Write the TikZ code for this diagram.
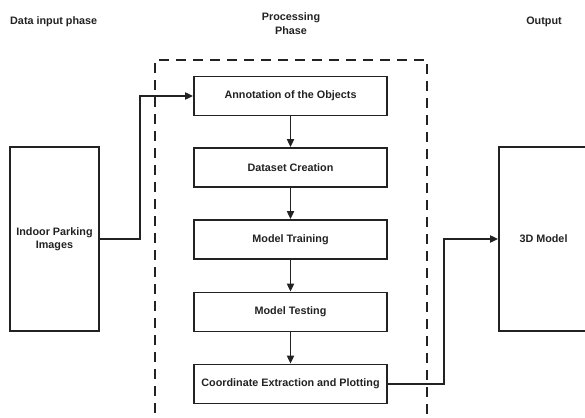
\documentclass[tikz,border=0pt]{standalone}
\usepackage{fontspec}
\setmainfont{Liberation Sans}
\usetikzlibrary{arrows.meta}
\definecolor{ink}{HTML}{222222}
\begin{document}
\begin{tikzpicture}[x=1pt,y=-1pt,
  font=\bfseries\fontsize{10.8}{13.5}\selectfont, text=ink,
  stage/.style={draw=ink, line width=1.7pt, minimum width=193pt, minimum height=39pt, inner sep=0pt},
  tall/.style={draw=ink, line width=1.7pt, minimum width=89pt, minimum height=184pt, inner sep=0pt, align=center},
  link/.style={draw=ink, line width=1.7pt, -{Triangle[length=8pt,width=7pt]}},
  frame/.style={draw=ink, line width=1.7pt, dash pattern=on 10pt off 7pt},
  heading/.style={align=center, inner sep=0pt}]
\useasboundingbox (0,0) rectangle (585,417);
\clip (0,0) rectangle (585,417);

% phase headings
\node[heading, anchor=west] (hin) at (10,22) {Data input phase};
\node[heading] (hproc) at (291,23.5) {Processing\\Phase};
\node[heading] (hout) at (544,22) {Output};

% processing phase frame
\draw[frame] (155,430) -- (155,60) -- (427,60) -- (427,430);

% inputs and outputs
\node[tall] (imgs) at (54.5,239) {Indoor Parking\\Images};
\node[tall] (model) at (543.5,239) {3D Model};

% processing steps
\node[stage] (ann) at (290.5,96) {Annotation of the Objects};
\node[stage] (data) at (290.5,167.5) {Dataset Creation};
\node[stage] (train) at (290.5,239.5) {Model Training};
\node[stage] (test) at (290.5,312) {Model Testing};
\node[stage] (coord) at (290.5,384) {Coordinate Extraction and Plotting};

% connectors
\draw[link] (imgs.east) -- ++(40,0) |- (ann.west);
\draw[link] (ann) -- (data);
\draw[link] (data) -- (train);
\draw[link] (train) -- (test);
\draw[link] (test) -- (coord);
\draw[link] (coord.east) -- ++(56,0) |- (model.west);
\end{tikzpicture}
\end{document}
